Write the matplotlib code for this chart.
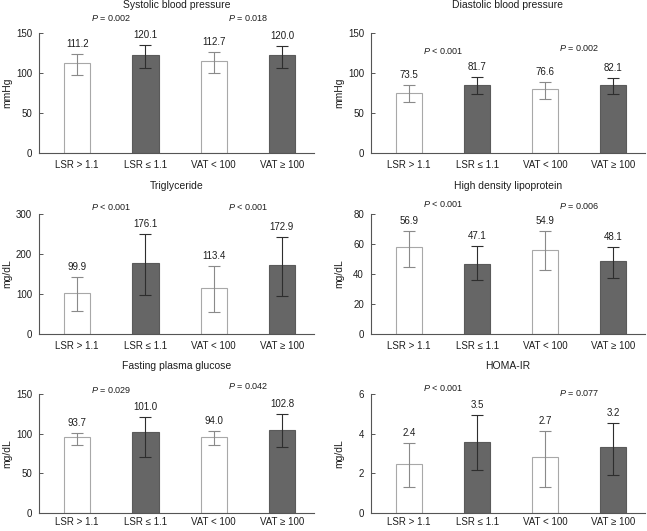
import matplotlib.pyplot as plt
import numpy as np

plt.rcParams["font.family"] = ["Liberation Sans", "DejaVu Sans"]
plt.rcParams["mathtext.fontset"] = "custom"
plt.rcParams["mathtext.it"] = "Liberation Sans:italic"
plt.rcParams["mathtext.rm"] = "Liberation Sans"

groups = ["LSR > 1.1", "LSR \u2264 1.1", "VAT < 100", "VAT \u2265 100"]

titles = [
    "Systolic blood pressure", "Diastolic blood pressure",
    "Triglyceride", "High density lipoprotein",
    "Fasting plasma glucose", "HOMA-IR",
]
ylabels = ["mmHg", "mmHg", "mg/dL", "mg/dL", "mg/dL", "mg/dL"]
yticks = [
    [0, 50, 100, 150], [0, 50, 100, 150],
    [0, 100, 200, 300], [0, 20, 40, 60, 80],
    [0, 50, 100, 150], [0, 2, 4, 6],
]

# bar heights as drawn
means = [
    [112.5, 122.5, 115.0, 122.5],
    [75.0, 85.0, 80.0, 85.0],
    [102.5, 177.5, 115.0, 172.5],
    [57.8, 47.0, 55.8, 48.4],
    [95.8, 102.5, 96.2, 104.6],
    [2.47, 3.56, 2.81, 3.31],
]
err_top = [
    [123.8, 135.0, 126.0, 133.8],
    [85.0, 95.0, 89.0, 94.0],
    [142.5, 250.0, 170.0, 242.5],
    [68.6, 58.5, 68.6, 57.8],
    [100.8, 121.4, 103.8, 124.8],
    [3.53, 4.96, 4.15, 4.54],
]
err_bottom = [
    [97.5, 106.0, 100.0, 106.0],
    [64.0, 73.5, 67.0, 73.5],
    [57.5, 97.5, 55.0, 95.0],
    [45.0, 36.3, 42.4, 37.6],
    [85.7, 71.0, 86.1, 82.8],
    [1.33, 2.17, 1.33, 1.93],
]
value_labels = [
    ["111.2", "120.1", "112.7", "120.0"],
    ["73.5", "81.7", "76.6", "82.1"],
    ["99.9", "176.1", "113.4", "172.9"],
    ["56.9", "47.1", "54.9", "48.1"],
    ["93.7", "101.0", "94.0", "102.8"],
    ["2.4", "3.5", "2.7", "3.2"],
]
p_values = [
    ["= 0.002", "= 0.018"],
    ["< 0.001", "= 0.002"],
    ["< 0.001", "< 0.001"],
    ["< 0.001", "= 0.006"],
    ["= 0.029", "= 0.042"],
    ["< 0.001", "= 0.077"],
]
# vertical placement of the P annotations (data units)
p_y = [
    [169, 169], [127.5, 131], [317, 317], [86.7, 85.4], [155, 160], [6.3, 6.05],
]

W, H = 647, 531
fig = plt.figure(figsize=(W / 100, H / 100), dpi=100)
col_left = [39, 371]
col_width = [275, 274]
row_top = [33, 214, 394]
row_height = [120, 120, 119]
x_pad = [5, 5, 3]

x = np.arange(len(groups))
fill = ["white", "#666666", "white", "#666666"]
edge = ["#a8a8a8", "#5a5a5a", "#a8a8a8", "#5a5a5a"]
ecol = ["#8a8a8a", "#2e2e2e", "#8a8a8a", "#2e2e2e"]
txt = "#1e1e1e"

for i in range(6):
    r, c = divmod(i, 2)
    ax = fig.add_axes([
        col_left[c] / W,
        1 - (row_top[r] + row_height[r]) / H,
        col_width[c] / W,
        row_height[r] / H,
    ])
    m = np.array(means[i])
    lo = m - np.array(err_bottom[i])
    hi = np.array(err_top[i]) - m
    for j in range(len(groups)):
        ax.bar(x[j], m[j], width=0.385, color=fill[j], edgecolor=edge[j], linewidth=0.8, zorder=2)
        ax.errorbar(x[j], m[j], yerr=[[lo[j]], [hi[j]]], fmt="none", ecolor=ecol[j],
                    elinewidth=0.8, capsize=4.5, capthick=0.8, zorder=3)
        ax.annotate(value_labels[i][j], (x[j], err_top[i][j]), xytext=(0, 3.5),
                    textcoords="offset points", ha="center", va="bottom", fontsize=7, color=txt)
    for k, pv in enumerate(p_values[i]):
        ax.text(2 * k + 0.5, p_y[i][k], r"$\it{P}$ " + pv, ha="center", va="center",
                fontsize=6.5, color=txt, clip_on=False)

    ax.set_xlim(-0.56, 3.47)
    ax.set_ylim(yticks[i][0], yticks[i][-1])
    ax.set_yticks(yticks[i])
    ax.set_xticks(x)
    ax.set_xticklabels(groups)
    ax.tick_params(axis="x", length=0, pad=x_pad[r], labelsize=7, labelcolor=txt)
    ax.tick_params(axis="y", direction="in", length=3, width=0.7, color="#555555",
                   pad=5, labelsize=7, labelcolor=txt)
    for s in ("top", "right"):
        ax.spines[s].set_visible(False)
    for s in ("left", "bottom"):
        ax.spines[s].set_color("#555555")
        ax.spines[s].set_linewidth(0.8)
    ax.text(-32 / col_width[c], 0.5, ylabels[i], transform=ax.transAxes, rotation=90,
            ha="center", va="center", fontsize=7.5, color=txt)
    ax.text(0.5, 1 + 28 / row_height[r], titles[i], transform=ax.transAxes,
            ha="center", va="center", fontsize=7.5, color=txt)

fig.savefig("out.png", dpi=100)
